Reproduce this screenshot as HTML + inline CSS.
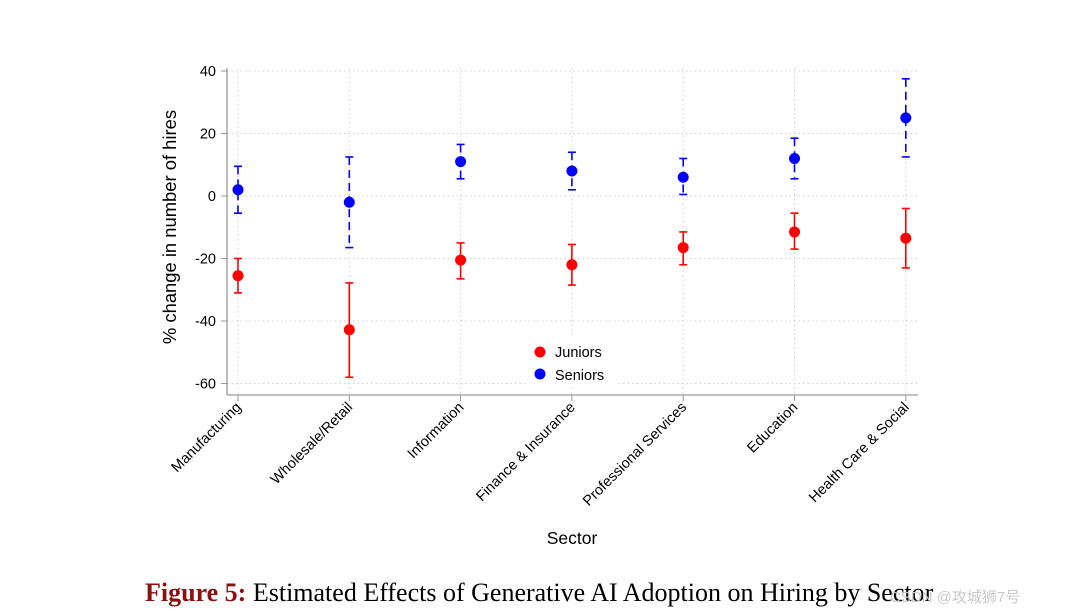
<!DOCTYPE html>
<html><head><meta charset="utf-8"><style>
body{margin:0;background:#fff;}
svg{display:block;font-family:"Liberation Sans",sans-serif;}
</style></head><body>
<svg id="chart" width="1068" height="614" viewBox="0 0 1068 614" xmlns="http://www.w3.org/2000/svg">
<g id="grid"></g>
<g id="axes"></g>
<g id="marks"></g>
<g>
<rect x="528" y="336" width="90" height="50" fill="#fff"/>
<circle cx="540" cy="352" r="5.5" fill="#ff0000"/>
<text x="555" y="357" font-size="14.5">Juniors</text>
<circle cx="540" cy="374" r="5.5" fill="#0000ff"/>
<text x="555" y="380" font-size="14.5">Seniors</text>
</g>
<text x="176" y="227" font-size="18.4" text-anchor="middle" transform="rotate(-90 176 227)">% change in number of hires</text>
<text x="572" y="544" font-size="17.5" text-anchor="middle">Sector</text>
<text x="145" y="601" font-size="26" font-family="Liberation Serif, serif"><tspan fill="#8b1010" font-weight="bold">Figure 5:</tspan> Estimated Effects of Generative AI Adoption on Hiring by Sector</text>
<text x="890" y="602" font-size="15" fill="#c8c8c8" font-family="Liberation Sans, 'Noto Sans CJK SC', sans-serif">CSDN @攻城狮7号</text>
</svg>
<script>
const categories=["Manufacturing","Wholesale/Retail","Information","Finance & Insurance","Professional Services","Education","Health Care & Social"];
const juniors=[-25.5,-42.8,-20.5,-22,-16.5,-11.5,-13.5];
const juniorsLo=[-31,-58,-26.5,-28.5,-22,-17,-23];
const juniorsHi=[-20,-27.8,-15,-15.5,-11.5,-5.5,-4];
const seniors=[2,-2,11,8,6,12,25];
const seniorsLo=[-5.5,-16.5,5.5,2,0.5,5.5,12.5];
const seniorsHi=[9.5,12.5,16.5,14,12,18.5,37.5];
const yTicks=[40,20,0,-20,-40,-60];
const NS="http://www.w3.org/2000/svg";
function y(v){return 196+(0-v)*62.5/20;}
function x(i){return 238+i*111.3;}
function mk(tag,attrs,parent){const e=document.createElementNS(NS,tag);for(const k in attrs)e.setAttribute(k,attrs[k]);parent.appendChild(e);return e;}
const grid=document.getElementById('grid'),axes=document.getElementById('axes'),marks=document.getElementById('marks');
yTicks.forEach(t=>{
  const g=mk('line',{x1:227,x2:918,y1:y(t),y2:y(t),stroke:'#d0d0d0','stroke-width':1,'stroke-dasharray':'1.5 3'},grid);
  
  
  mk('line',{x1:221,x2:227,y1:y(t),y2:y(t),stroke:'#999'},axes);
  const tx=mk('text',{x:216,y:y(t)+5,'font-size':14.5,'text-anchor':'end'},axes);
  tx.textContent=t;
  
  
});
categories.forEach((c,i)=>{
  const g=mk('line',{x1:x(i),x2:x(i),y1:68,y2:395,stroke:'#d0d0d0','stroke-width':1,'stroke-dasharray':'1.5 3'},grid);
  
  
  mk('line',{x1:x(i),x2:x(i),y1:395,y2:401,stroke:'#999'},axes);
  const tx=mk('text',{x:x(i)+4,y:408,'font-size':14.5,'text-anchor':'end',transform:`rotate(-45 ${x(i)+4} 408)`},axes);
  tx.textContent=c;
  
  
});
mk('line',{x1:227,x2:227,y1:68,y2:395,stroke:'#999','stroke-width':1.3},axes);
mk('line',{x1:227,x2:918,y1:395,y2:395,stroke:'#999','stroke-width':1.3},axes);
function series(vals,lo,hi,color,dash,name){
  vals.forEach((v,i)=>{
    const cx=x(i);
    const l=mk('line',{x1:cx,x2:cx,y1:y(hi[i]),y2:y(lo[i]),stroke:color,'stroke-width':1.6},marks);
    if(dash)l.setAttribute('stroke-dasharray',dash);
    
    
    mk('line',{x1:cx-4,x2:cx+4,y1:y(hi[i]),y2:y(hi[i]),stroke:color,'stroke-width':1.6},marks);
    mk('line',{x1:cx-4,x2:cx+4,y1:y(lo[i]),y2:y(lo[i]),stroke:color,'stroke-width':1.6},marks);
    const p=mk('circle',{cx:cx,cy:y(v),r:5.5,fill:color},marks);
    
    
  });
}
series(juniors,juniorsLo,juniorsHi,'#ff0000',null,'juniors');
series(seniors,seniorsLo,seniorsHi,'#0000ff','8 5','seniors');
</script>
</body></html>
